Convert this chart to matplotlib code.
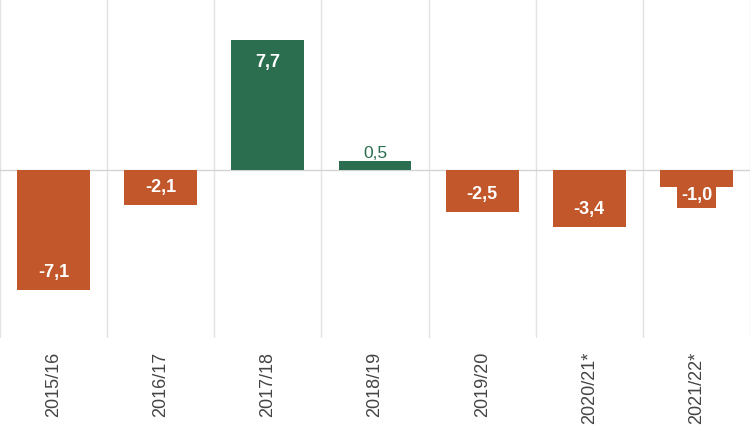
import matplotlib
matplotlib.use("Agg")
import matplotlib.pyplot as plt
import numpy as np

categories = ["2015/16", "2016/17", "2017/18", "2018/19", "2019/20", "2020/21*", "2021/22*"]
values = [-7.1, -2.1, 7.7, 0.5, -2.5, -3.4, -1.0]
labels = ["-7,1", "-2,1", "7,7", "0,5", "-2,5", "-3,4", "-1,0"]

ORANGE = "#C1572A"
GREEN = "#2A6E4F"

plt.rcParams['font.family'] = ['Liberation Sans', 'DejaVu Sans']

fig = plt.figure(figsize=(7.5, 4.3), dpi=100)
ax = fig.add_axes([0.0, 1 - 338 / 430, 1.0, 338 / 430])

x = np.arange(len(categories))
colors = [GREEN if v > 0 else ORANGE for v in values]
ax.bar(x, values, width=0.68, color=colors, zorder=3)

ax.set_xlim(-0.5, len(categories) - 0.5)
ax.set_ylim(-9.95, 10.05)

# vertical separators
for b in np.arange(-0.5, len(categories) + 0.5, 1.0):
    ax.axvline(b, color="#e3e3e3", lw=1.0, zorder=1)
ax.axhline(0, color="#d4d4d4", lw=1.0, zorder=2)

for xi, v, lab in zip(x, values, labels):
    if v > 0 and v < 1.5:
        ax.annotate(lab, (xi, v), xytext=(0, 5.5), textcoords="offset points",
                    ha="center", va="center", color=GREEN, fontsize=12.5, zorder=5)
    elif v < 0 and v > -1.5:
        ax.annotate(lab, (xi, v), xytext=(0, -6.5), textcoords="offset points",
                    ha="center", va="center", color="white", fontsize=13,
                    fontweight="bold", zorder=5,
                    bbox=dict(boxstyle="square,pad=0.2", fc=ORANGE, ec="none"))
    else:
        off = -16.5 if v > 0 else 12.5
        ax.annotate(lab, (xi, v), xytext=(0, off), textcoords="offset points",
                    ha="center", va="center", color="white", fontsize=13,
                    fontweight="bold", zorder=5)

ax.set_xticks(x)
ax.set_xticklabels(categories, rotation=90, fontsize=13, color="#444444")
ax.tick_params(axis="x", length=0, pad=10)
ax.set_yticks([])
for s in ax.spines.values():
    s.set_visible(False)

fig.savefig("out.png", dpi=100)
